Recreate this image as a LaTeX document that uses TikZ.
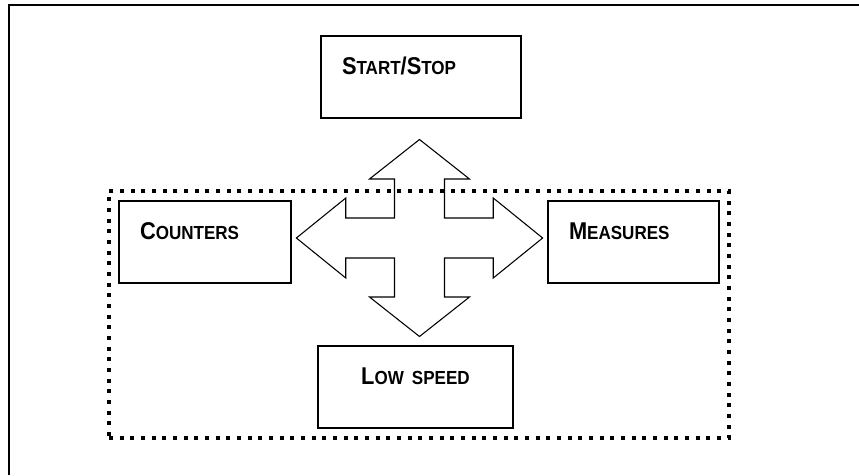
\documentclass[tikz,border=0pt]{standalone}
\usepackage{fontspec}
\setmainfont{Liberation Sans}
\newfontface\unitfont{Liberation Sans Bold}[FakeStretch=0.9]
\usepackage{tikz}
\usetikzlibrary{positioning,fit}
\newcommand{\smc}[1]{{\fontsize{14.2pt}{15pt}\selectfont #1}}
\tikzset{
  unit/.style={draw, line width=1.5pt, inner xsep=15.75pt, inner ysep=0pt, text width=#1, align=left,
    text height=29.2pt, text depth=32.3pt, font=\unitfont\fontsize{18.2pt}{19pt}\selectfont},
  group/.style={draw, line width=3pt, dash pattern=on 3pt off 5pt, inner sep=6.75pt},
  cross/.style={draw, line width=0.8pt, line join=miter},
  frame/.style={line width=1.8pt},
}

\begin{document}
\begin{tikzpicture}[x=0.75pt, y=-0.75pt]
  \useasboundingbox (0,0) rectangle (859,475);
  \draw[frame] (8.7,475) -- (8.7,5) -- (859,5);
  \node[unit=118.5pt] (start) at (421,77) {S\smc{TART}/S\smc{TOP}};
  \node[unit=97.5pt] (count) at (205,242) {C\smc{OUNTERS}};
  \node[unit=96.75pt] (meas) at (633.5,242) {M\smc{EASURES}};
  \node[unit=114.75pt, align=center] (low) at (415.5,387) {L\smc{OW SPEED}};
  \node[group, fit=(count)(meas)(low)] (core) {};
  % four-way arrow
  \coordinate (hub) at (419.5,238);
  \begin{scope}[shift={(hub)}, xscale=1.25]
    \draw[cross] (0,-98.5) -- (40,-59) -- (20,-59) -- (20,-20) -- (59,-20) -- (59,-40) -- (98.5,0)
      -- (59,40) -- (59,20) -- (20,20) -- (20,59) -- (40,59) -- (0,98.5)
      -- (-40,59) -- (-20,59) -- (-20,20) -- (-59,20) -- (-59,40) -- (-98.5,0)
      -- (-59,-40) -- (-59,-20) -- (-20,-20) -- (-20,-59) -- (-40,-59) -- cycle;
  \end{scope}
\end{tikzpicture}
\end{document}
